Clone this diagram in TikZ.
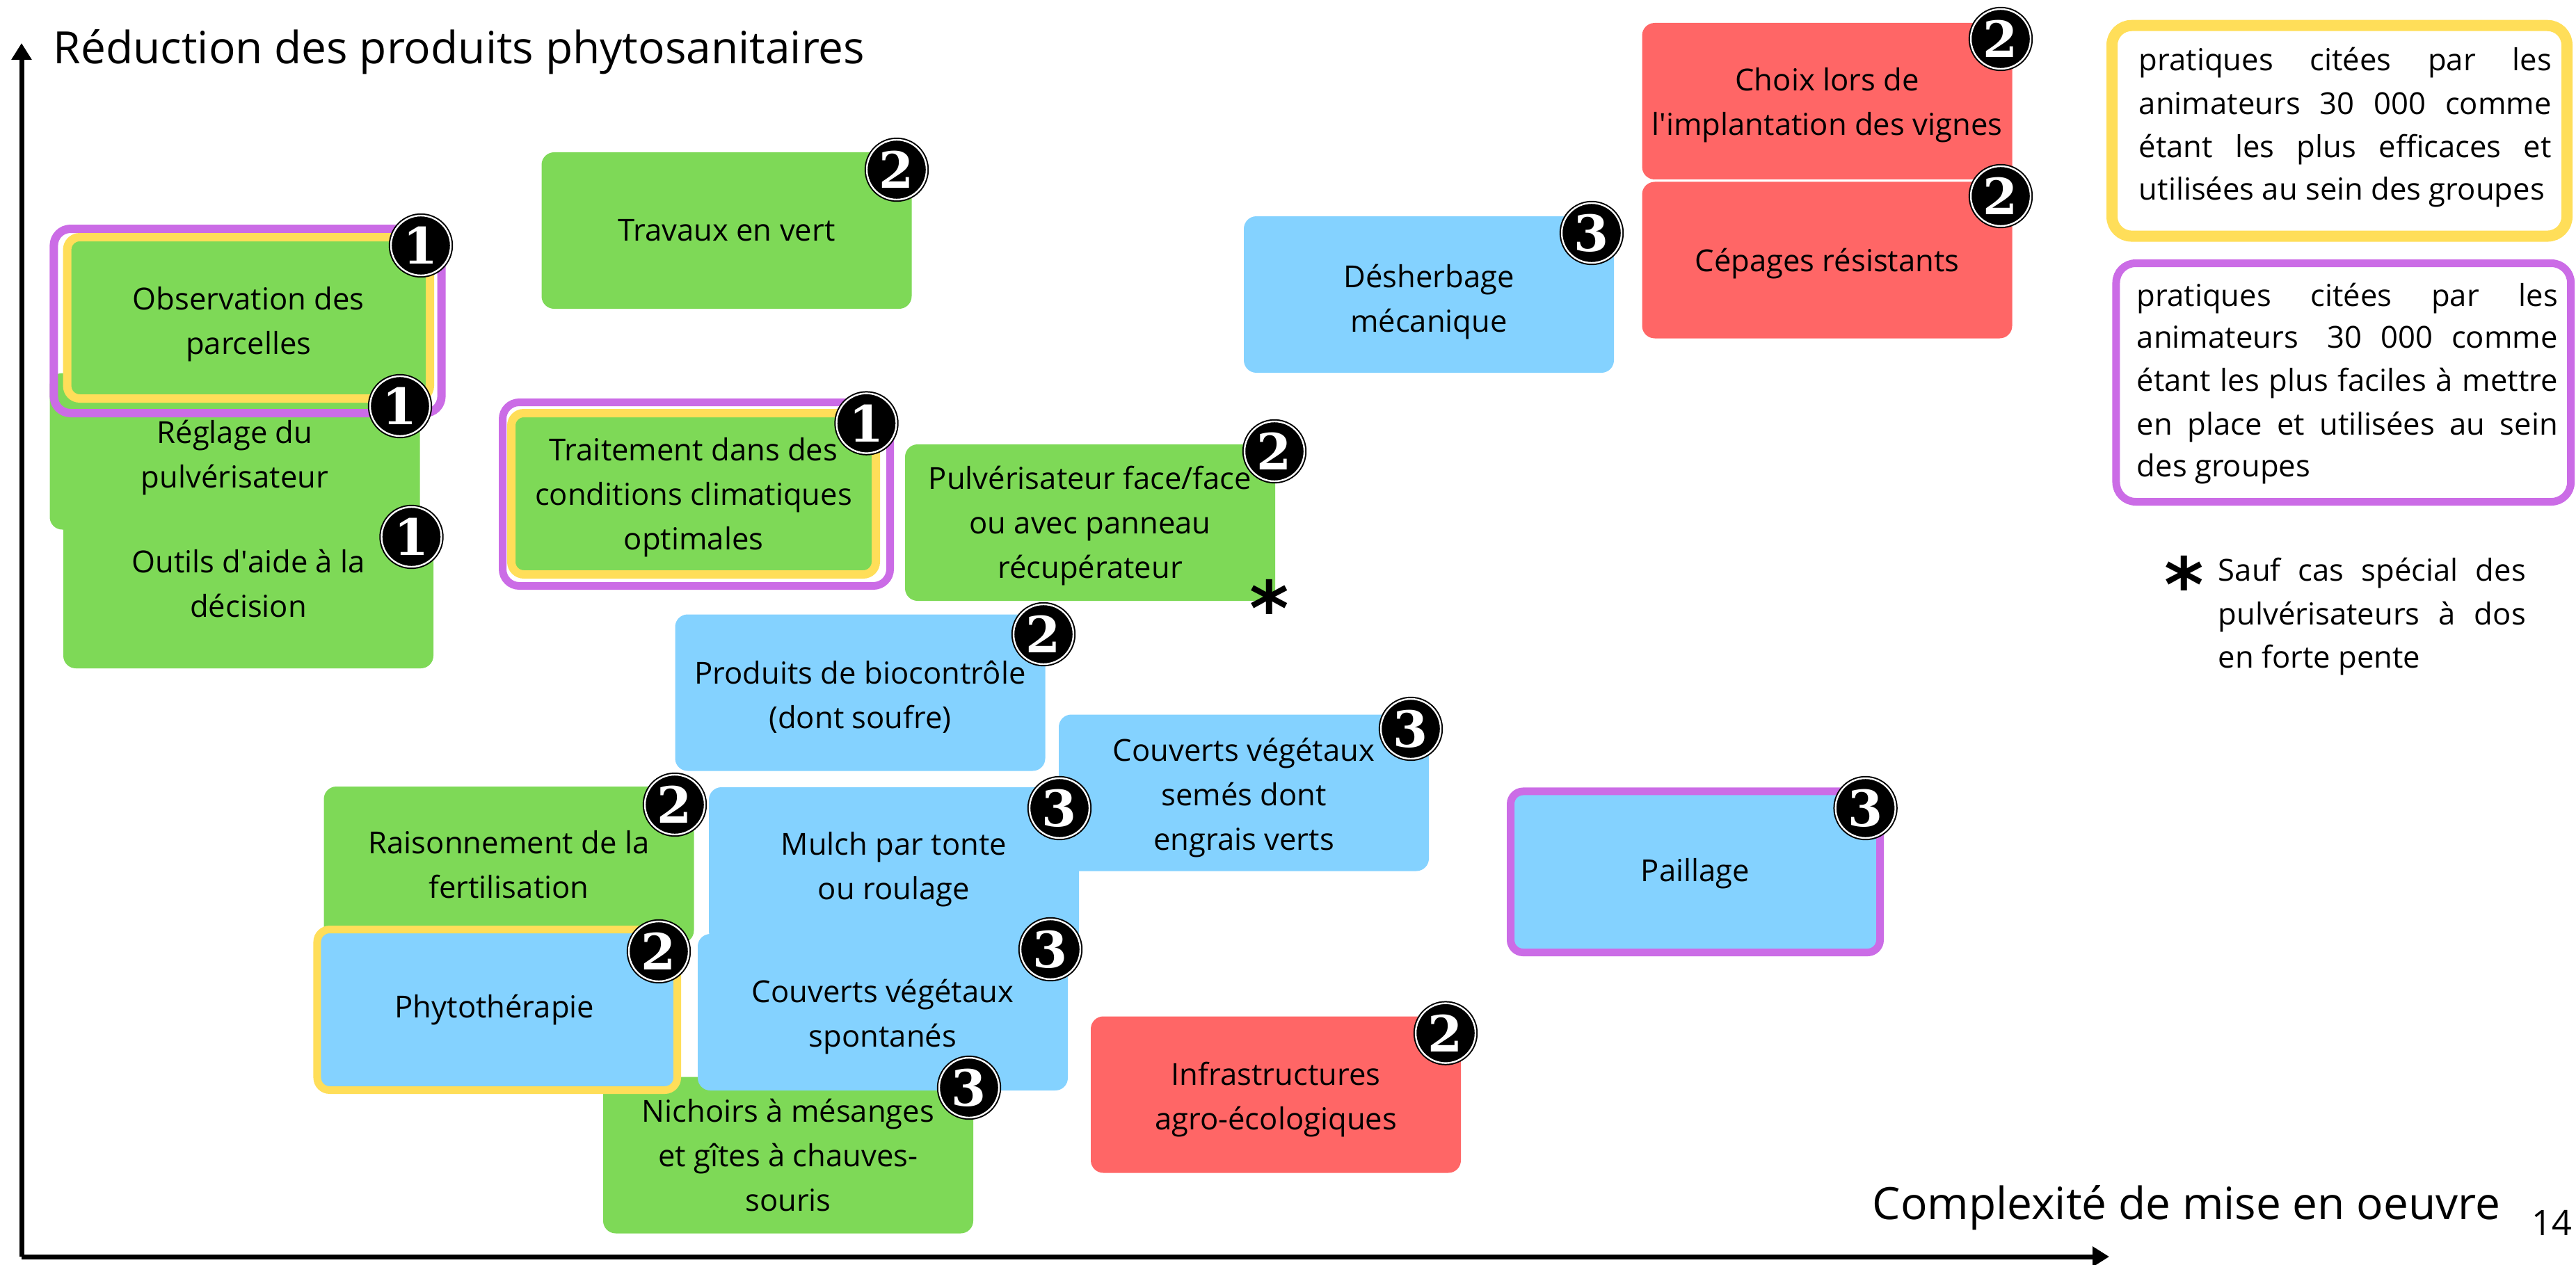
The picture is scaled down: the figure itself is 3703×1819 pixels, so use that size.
\documentclass[tikz,border=0pt]{standalone}
\usepackage{fontspec}
\setmainfont{Open Sans}
\newfontfamily\badgefont{DejaVu Serif}
\newfontfamily\astfont{DejaVu Sans}
\usetikzlibrary{arrows.meta}
\definecolor{cgreen}{HTML}{7ED957}
\definecolor{cblue}{HTML}{84D2FF}
\definecolor{cred}{HTML}{FF6666}
\definecolor{cyellow}{HTML}{FFDE59}
\definecolor{cpurple}{HTML}{CB6CE6}
\tikzset{
  box/.style={rectangle, rounded corners=4.5pt, inner sep=0pt, minimum width=133pt, minimum height=56.25pt},
  gbox/.style={box, fill=cgreen},
  bbox/.style={box, fill=cblue},
  rbox/.style={box, fill=cred},
  btext/.style={inner sep=0pt, align=center, font=\fontsize{10.9pt}{16pt}\selectfont},
  frm/.style={rectangle, rounded corners=6pt, inner sep=0pt, draw=#1},
  badge/.style={circle, fill=black, draw=black, line width=0.5pt, double=white, double distance=0.6pt, minimum size=21.5pt, inner sep=0pt, text=white, font=\badgefont\bfseries\fontsize{18pt}{18pt}\selectfont},
  legline/.style={anchor=base west, inner sep=0pt, font=\fontsize{10.9pt}{15.4pt}\selectfont},
  axis/.style={line width=1.75pt, -{Triangle[length=6pt,width=7pt]}},
  astx/.style={inner sep=0pt, anchor=center, font=\astfont\bfseries\fontsize{27pt}{27pt}\selectfont},
}
\begin{document}
\begin{tikzpicture}[x=0.25pt,y=-0.25pt]
\useasboundingbox (0,0) rectangle (3703,1819);
\fill[white] (0,0) rectangle (3703,1819);

% axes
\coordinate (o) at (31,1807);
\coordinate (ytop) at (31,62);
\coordinate (xend) at (3032,1807);
\draw[axis] (o) -- (ytop);
\draw[axis] (o) -- (xend);
\node[anchor=base west, inner sep=0pt, font=\fontsize{16pt}{16pt}\selectfont] (ytitle) at (76,92) {Réduction des produits phytosanitaires};
\node[anchor=base west, inner sep=0pt, font=\fontsize{16pt}{16pt}\selectfont] (xtitle) at (2691,1753) {Complexité de mise en oeuvre};
\node[anchor=base west, inner sep=0pt, font=\fontsize{12.6pt}{12.6pt}\selectfont] (pnum) at (3639,1776) {14};

% boxes (shapes)
\node[gbox] (reglage) at (337.5,649) {};
\node[gbox] (outils) at (357,848.5) {};
\node[frm=cpurple, line width=3pt, minimum width=139.3pt, minimum height=66.25pt] (obsframe) at (356,461.5) {};
\node[box, fill=cgreen, draw=cyellow, line width=3pt, minimum width=130.35pt, minimum height=58pt] (obs) at (357.3,457) {};
\node[gbox] (travaux) at (1044.5,331.5) {};
\node[frm=cpurple, line width=2.75pt, minimum width=139.25pt, minimum height=66pt] (traitframe) at (1001,710.5) {};
\node[box, fill=cgreen, draw=cyellow, line width=3pt, minimum width=131pt, minimum height=58pt] (trait) at (997,710) {};
\node[gbox] (pulv) at (1567,751.5) {};
\node[bbox] (desherb) at (2054,423.5) {};
\node[rbox] (choix) at (2626.5,145.5) {};
\node[rbox] (cepages) at (2626.5,374) {};
\node[bbox] (produits) at (1236.5,996) {};
\node[bbox] (semes) at (1788,1140) {};
\node[gbox] (raison) at (731.5,1243.5) {};
\node[bbox] (mulch) at (1285,1244.5) {};
\node[gbox] (nichoirs) at (1133,1661) {};
\node[bbox] (spont) at (1269,1455.5) {};
\node[box, fill=cblue, draw=cyellow, line width=2.75pt, minimum width=129.4pt, minimum height=57.75pt] (phyto) at (714.75,1452) {};
\node[box, fill=cblue, draw=cpurple, line width=2.75pt, minimum width=132.75pt, minimum height=57.9pt] (paillage) at (2437,1253.75) {};
\node[rbox] (infra) at (1834,1574) {};

% box texts
\node[btext] (reglage-t) at (337.5,658.5) {Réglage du\\pulvérisateur};
\node[btext] (outils-t) at (357,839) {Outils d\textquotesingle aide à la\\décision};
\node[btext] (obs-t) at (357.3,466.5) {Observation des\\parcelles};
\node[btext] (travaux-t) at (1044.5,331.5) {Travaux en vert};
\node[btext] (trait-t) at (997,714.7) {Traitement dans des\\conditions climatiques\\optimales};
\node[btext] (pulv-t) at (1567,756) {Pulvérisateur face/face\\ou avec panneau\\récupérateur};
\node[btext] (desherb-t) at (2054,434) {Désherbage\\mécanique};
\node[btext] (choix-t) at (2626.5,151.5) {Choix lors de\\l\textquotesingle implantation des vignes};
\node[btext] (cepages-t) at (2626.5,379) {Cépages résistants};
\node[btext] (produits-t) at (1236.5,1002) {Produits de biocontrôle\\(dont soufre)};
\node[btext] (semes-t) at (1788,1147) {Couverts végétaux\\semés dont\\engrais verts};
\node[btext] (raison-t) at (731.5,1243.5) {Raisonnement de la\\fertilisation};
\node[btext] (mulch-t) at (1285,1250.5) {Mulch par tonte\\ou roulage};
\node[btext] (nichoirs-t) at (1133,1661) {Nichoirs à mésanges\\et gîtes à chauves-\\souris};
\node[btext] (spont-t) at (1269,1462.5) {Couverts végétaux\\spontanés};
\node[btext] (phyto-t) at (711,1452) {Phytothérapie};
\node[btext] (paillage-t) at (2437,1256) {Paillage};
\node[btext] (infra-t) at (1834,1581) {Infrastructures\\agro-écologiques};

% badges
\node[badge] (b-obs) at (605,353) {1};
\node[badge] (b-reglage) at (575,584) {1};
\node[badge] (b-outils) at (591.5,772) {1};
\node[badge] (b-travaux) at (1289,244) {2};
\node[badge] (b-trait) at (1245.5,608.6) {1};
\node[badge] (b-pulv) at (1832,649) {2};
\node[badge] (b-desherb) at (2288,335) {3};
\node[badge] (b-choix) at (2876,56) {2};
\node[badge] (b-cepages) at (2876,282) {2};
\node[badge] (b-produits) at (1500,912) {2};
\node[badge] (b-semes) at (2028,1048) {3};
\node[badge] (b-raison) at (970,1157) {2};
\node[badge] (b-mulch) at (1523,1162) {3};
\node[badge] (b-paillage) at (2681.6,1162) {3};
\node[badge] (b-phyto) at (947,1368) {2};
\node[badge] (b-spont) at (1510,1365) {3};
\node[badge] (b-nichoirs) at (1393,1564) {3};
\node[badge] (b-infra) at (2078,1485.6) {2};

% asterisk on pulverisateur
\node[astx] (ast1) at (1824.5,873) {*};

% legend
\node[frm=cyellow, rounded corners=7pt, line width=4pt, minimum width=163.5pt, minimum height=75.7pt] (legA) at (3363,188.15) {};
\node[legline] (legA1) at (3074,102) {\makebox[148.25pt][l]{pratiques\hfill citées\hfill par\hfill les}};
\node[legline] (legA2) at (3074,164.5) {\makebox[148.25pt][l]{animateurs\hfill 30\hfill 000\hfill comme}};
\node[legline] (legA3) at (3074,226) {\makebox[148.25pt][l]{étant\hfill les\hfill plus\hfill efficaces\hfill et}};
\node[legline] (legA4) at (3074,287) {utilisées au sein des groupes};

\node[frm=cpurple, rounded corners=7pt, line width=2.75pt, minimum width=163.4pt, minimum height=85.75pt] (legB) at (3368.75,550) {};
\node[legline] (legB1) at (3071,440) {\makebox[151.25pt][l]{pratiques\hfill citées\hfill par\hfill les}};
\node[legline] (legB2) at (3071,500.6) {\makebox[151.25pt][l]{animateurs\hspace{0.35em}\hfill 30\hfill 000\hfill comme}};
\node[legline] (legB3) at (3071,562.5) {\makebox[151.25pt][l]{étant\hfill les\hfill plus\hfill faciles\hfill à\hfill mettre}};
\node[legline] (legB4) at (3071,625) {\makebox[151.25pt][l]{en\hfill place\hfill et\hfill utilisées\hfill au\hfill sein}};
\node[legline] (legB5) at (3071,685.6) {des groupes};

\node[astx] (ast2) at (3139.5,839) {*};
\node[legline] (legC1) at (3188,835.5) {\makebox[110.5pt][l]{Sauf\hfill cas\hfill spécial\hfill des}};
\node[legline] (legC2) at (3188,898) {\makebox[110.5pt][l]{pulvérisateurs\hfill à\hfill dos}};
\node[legline] (legC3) at (3188,960) {en forte pente};
\end{tikzpicture}
\end{document}
